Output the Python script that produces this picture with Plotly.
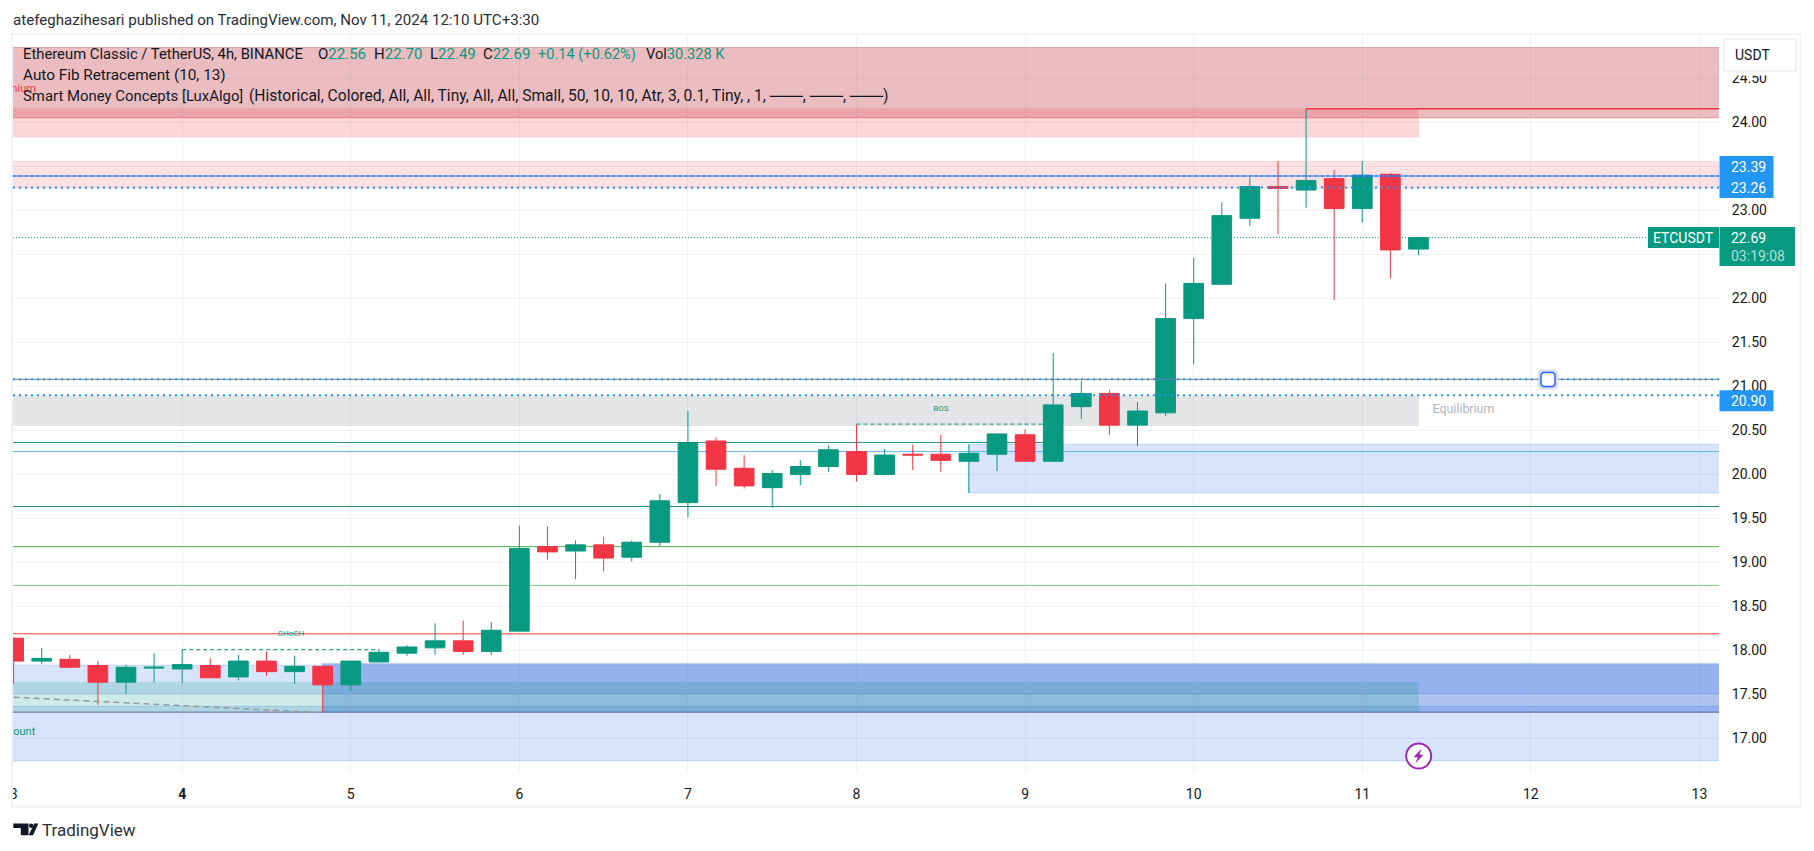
import plotly.graph_objects as go

W, H = 1814, 851
PL, PR, PT, PB = 13, 1719, 34, 771.7   # plot box in page pixels

# ---------- data ----------
open_ = [18.14,17.88,17.90,17.83,17.64,17.80,17.79,17.83,17.70,17.88,17.76,17.82,17.61,17.87,17.97,18.03,18.11,17.99,18.22,19.18,19.13,19.20,19.06,19.23,19.68,20.38,20.07,19.85,20.00,20.09,20.26,20.00,20.23,20.23,20.15,20.23,20.45,20.15,20.77,20.92,20.56,20.70,21.77,22.16,22.91,23.27,23.23,23.36,23.02,23.41,22.56]
high_ = [18.15,18.03,17.95,17.88,17.84,17.97,18.01,17.91,17.95,17.99,17.94,17.82,17.88,18.01,18.06,18.31,18.34,18.32,19.42,19.41,19.25,19.29,19.25,19.78,20.72,20.42,20.22,20.05,20.16,20.33,20.57,20.29,20.34,20.45,20.34,20.47,20.51,21.38,21.06,20.96,20.82,22.17,22.46,23.09,23.37,23.56,24.16,23.46,23.56,23.42,22.70]
low_  = [17.62,17.85,17.80,17.38,17.51,17.64,17.63,17.69,17.66,17.71,17.62,17.30,17.54,17.87,17.94,17.95,17.95,17.95,18.22,19.03,18.81,18.90,19.01,19.18,19.51,19.87,19.84,19.62,19.88,20.03,19.92,19.99,20.05,20.03,19.79,20.04,20.15,20.15,20.63,20.45,20.32,20.66,21.25,22.16,22.82,22.73,23.03,21.98,22.86,22.23,22.49]
close_= [17.88,17.91,17.81,17.64,17.81,17.81,17.84,17.69,17.88,17.76,17.82,17.61,17.88,17.98,18.04,18.11,17.99,18.23,19.16,19.12,19.20,19.05,19.23,19.70,20.36,20.06,19.87,20.01,20.09,20.28,20.00,20.22,20.22,20.16,20.24,20.46,20.15,20.79,20.92,20.56,20.72,21.77,22.17,22.94,23.27,23.25,23.34,23.02,23.40,22.55,22.69]
bar_x = [3 + i / 6 for i in range(len(open_))]

day_ticks = [3,4,5,6,7,8,9,10,11,12,13]
day_labels = ["3","<b>4</b>","5","6","7","8","9","10","11","12","13"]
price_ticks = [17,17.5,18,18.5,19,19.5,20,20.5,21,21.5,22,22.5,23,23.5,24,24.5]

X_MIN, X_MAX = 2.9964, 13.116
Y_MIN, Y_MAX = 16.62, 25.003
ZONE_END = 11.336

zones = [
    (X_MIN, X_MAX, 24.05, 24.85, "rgba(192,35,45,0.30)", "rgba(192,35,45,0.30)"),
    (X_MIN, ZONE_END, 23.826, 24.16, "rgba(242,54,69,0.20)", None),
    (X_MIN, X_MAX, 23.25, 23.557, "rgba(242,54,69,0.15)", "rgba(242,54,69,0.12)"),
    (X_MIN, ZONE_END, 20.55, 20.90, "rgba(120,123,134,0.20)", None),
    (8.66, X_MAX, 19.79, 20.344, "rgba(41,110,240,0.19)", "rgba(41,110,240,0.20)"),
    (X_MIN, X_MAX, 17.51, 17.833, "rgba(41,110,240,0.19)", "rgba(41,110,240,0.20)"),
    (X_MIN, X_MAX, 16.746, 17.367, "rgba(41,110,240,0.19)", "rgba(41,110,240,0.20)"),
    (4.83, X_MAX, 17.30, 17.85, "rgba(41,98,216,0.38)", "rgba(41,98,216,0.30)"),
    (X_MIN, ZONE_END, 17.30, 17.643, "rgba(8,153,129,0.20)", None),
]
flat_lines = [
    (X_MIN, 9.17, 20.363, "#2a9a7e", 1),
    (X_MIN, X_MAX, 20.26, "#64b5f6", 1),
    (X_MIN, X_MAX, 19.636, "#1f8a77", 1),
    (X_MIN, X_MAX, 19.18, "#4caf50", 1),
    (X_MIN, X_MAX, 18.74, "#81c784", 1),
    (X_MIN, X_MAX, 18.19, "#f44336", 1),
    (X_MIN, X_MAX, 17.30, "#5f6f9f", 1),
]
choch_x, choch_y = [4, 5.17], [18.01, 18.01]
bos_x, bos_y = [8, 9.167], [20.572, 20.572]
swing_x, swing_y = [3.0, 4.76], [17.47, 17.30]
last_high_x, last_high_y = [10.667, X_MAX], [24.155, 24.155]
last_price = 22.69
fib_solid = 23.39
fib_dots = 23.26
lo_solid = 21.08
lo_dots = 20.90

# ---------- helpers ----------
def px(x): return (x - PL) / (PR - PL)
def py(y): return 1 - (y - PT) / (PB - PT)

TEAL, RED = "#089981", "#F23645"
FONT = "Roboto"
shapes, annotations = [], []

for x0, x1, y0, y1, fill, border in zones:
    shapes.append(dict(type="rect", layer="below", xref="x", yref="y", x0=x0, x1=x1, y0=y0, y1=y1,
                       fillcolor=fill, line_width=0))
    if border:
        for yy in (y0, y1):
            shapes.append(dict(type="line", layer="below", xref="x", yref="y", x0=x0, x1=x1, y0=yy, y1=yy,
                               line=dict(color=border, width=1)))
for x0, x1, yy, col, w in flat_lines:
    shapes.append(dict(type="line", layer="below", xref="x", yref="y", x0=x0, x1=x1, y0=yy, y1=yy,
                       line=dict(color=col, width=w)))
shapes.append(dict(type="line", layer="below", xref="x", yref="y", x0=X_MIN, x1=X_MAX, y0=last_price, y1=last_price,
                   line=dict(color=TEAL, width=1, dash="1px,2px")))

def text(x, y, s, size=14, color="#131722", anchor="left"):
    annotations.append(dict(xref="paper", yref="paper", x=px(x), y=py(y), text=s, showarrow=False,
                            xanchor=anchor, yanchor="middle", borderpad=0, borderwidth=0,
                            font=dict(family=FONT, size=size, color=color)))

def box(x0, y0, x1, y1, fill, line=None, lw=0):
    shapes.append(dict(type="rect", layer="above", xref="paper", yref="paper",
                       x0=px(x0), x1=px(x1), y0=py(y0), y1=py(y1), fillcolor=fill,
                       line=dict(color=line or fill, width=lw)))

def poly(points, fill, line=None, lw=0):
    path = "M " + " L ".join(f"{px(a):.5f},{py(b):.5f}" for a, b in points) + " Z"
    shapes.append(dict(type="path", layer="above", xref="paper", yref="paper", path=path, fillcolor=fill,
                       line=dict(color=line or fill, width=lw)))

def circle(cx, cy, r, fill, line=None, lw=0):
    shapes.append(dict(type="circle", layer="above", xref="paper", yref="paper",
                       x0=px(cx - r), x1=px(cx + r), y0=py(cy + r), y1=py(cy - r), fillcolor=fill,
                       line=dict(color=line or fill, width=lw)))

# page frame and clip of the first date label
box(0, 772, 12, 806, "#ffffff")
FRAME = "#f0f3fa"
box(11, 33, 1801, 35, FRAME)
box(11, 33, 13, 807, FRAME)
box(11, 805.5, 1801, 807.5, FRAME)
box(1799.5, 33, 1801.5, 807, FRAME)

# price axis labels
box(1719.5, 156, 1773.5, 198, "#2196F3")
box(1719.5, 390, 1773.5, 411, "#2196F3")
box(1648, 227, 1719, 248, TEAL)
box(1719.5, 227, 1795, 266, TEAL)
box(1723, 38, 1797, 75.5, "#ffffff")
box(1724, 39, 1796, 71, "#ffffff", "#e0e3eb", 1)
text(1752.5, 54.7, "USDT", 14, "#131722", "center")
text(1730.5, 166.7, "23.39", 14, "#ffffff")
text(1730.5, 188, "23.26", 14, "#ffffff")
text(1730.5, 401, "20.90", 14, "#ffffff")
text(1683.5, 237.5, "ETCUSDT", 14, "#ffffff", "center")
text(1730.5, 237.5, "22.69", 14, "#ffffff")
text(1730.5, 255.7, "03:19:08", 14, "#b5e0d6")

# header / legend
LEG = 15
text(13, 20, "atefeghazihesari published on TradingView.com, Nov 11, 2024 12:10 UTC+3:30", 15.1, "#2a2e39")
text(23, 54, "Ethereum Classic / TetherUS, 4h, BINANCE", LEG - 0.2)
text(317.5, 54, f"O<span style='color:{TEAL}'>22.56</span>", LEG)
text(373.5, 54, f"H<span style='color:{TEAL}'>22.70</span>", LEG)
text(429.5, 54, f"L<span style='color:{TEAL}'>22.49</span>", LEG)
text(483, 54, f"C<span style='color:{TEAL}'>22.69</span>", LEG)
text(538, 54, "+0.14 (+0.62%)", 14.6, TEAL)
text(645.5, 54, f"Vol<span style='color:{TEAL}'>30.328 K</span>", 14.6)
text(23, 75, "Auto Fib Retracement (10, 13)", 15.3)
text(23, 96, "Smart Money Concepts [LuxAlgo]", 14.9)
text(248.5, 96, "(Historical, Colored, All, All, Tiny, All, All, Small, 50, 10, 10, Atr, 3, 0.1, Tiny, , 1, ───, ───, ───)", 15.6)

# footer logo
LOGO = "#131722"
poly([(13.3,823.3),(28.5,823.3),(28.5,835),(20.8,835),(20.8,827.6),(13.3,827.6)], LOGO)
circle(31.2, 825.4, 2.2, LOGO)
poly([(34.3,823.3),(38.4,823.3),(33,835),(28.6,835)], LOGO)
text(41.5, 830, "TradingView", 17, "#2a2e39")

# handle on the drawn line
def rounded(cx, cy, half, r):
    return [(cx-half+r,cy-half),(cx+half-r,cy-half),(cx+half,cy-half+r),(cx+half,cy+half-r),
            (cx+half-r,cy+half),(cx-half+r,cy+half),(cx-half,cy+half-r),(cx-half,cy-half+r)]
poly(rounded(1548, 379.3, 10, 3), "#d4def9")
poly(rounded(1548, 379.3, 7, 2), "#ffffff", "#2962ff", 1.5)

# lightning badge
circle(1418.7, 755.7, 12.5, "#ffffff", "#9c27b0", 2)
poly([(1421.5,748.5),(1413.5,757),(1417.8,757),(1415.5,763),(1423.5,754.5),(1419.5,754.5)], "#9c27b0")

fig = go.Figure()
fig.add_trace(go.Candlestick(x=bar_x, open=open_, high=high_, low=low_, close=close_, showlegend=False,
                             whiskerwidth=0, hoverinfo="skip",
                             increasing=dict(line=dict(color=TEAL, width=1), fillcolor=TEAL),
                             decreasing=dict(line=dict(color=RED, width=1), fillcolor=RED)))

def line_trace(x, y, color, width=1, dash="solid"):
    fig.add_trace(go.Scatter(x=x, y=y, mode="lines", showlegend=False, hoverinfo="skip",
                             line=dict(color=color, width=width, dash=dash)))

line_trace(choch_x, choch_y, TEAL, 1, "4px,3px")
line_trace(bos_x, bos_y, TEAL, 1, "4px,3px")
line_trace(swing_x, swing_y, "#9598a1", 1.5, "6px,4px")
line_trace(last_high_x, last_high_y, RED, 1.5)
ends = [X_MIN, X_MAX]
line_trace(ends, [fib_solid]*2, "#2962ff", 1)
line_trace(ends, [fib_solid]*2, "#2196f3", 2, "2px,4px")
line_trace(ends, [fib_dots]*2, "#2196f3", 2, "2px,4px")
line_trace(ends, [lo_solid]*2, "#787b86", 1)
line_trace(ends, [lo_solid]*2, "#2196f3", 2, "2px,4px")
line_trace(ends, [lo_dots]*2, "#2196f3", 2, "2px,4px")

def label_trace(x, y, s, color, size):
    fig.add_trace(go.Scatter(x=[x], y=[y], mode="text", text=[s], showlegend=False, hoverinfo="skip",
                             textposition="middle center", textfont=dict(family=FONT, size=size, color=color)))

label_trace(3.0, 24.378, "Premium", RED, 11)
label_trace(3.0, 17.07, "Discount", TEAL, 11)
label_trace(4.645, 18.185, "CHoCH", TEAL, 8)
label_trace(8.5, 20.74, "BOS", TEAL, 8)
label_trace(11.60, 20.73, "Equilibrium", "#b2b5be", 12.4)

GRID = "rgba(120,123,134,0.10)"
fig.update_layout(
    width=W, height=H, autosize=False, paper_bgcolor="#ffffff", plot_bgcolor="#ffffff",
    margin=dict(l=PL, r=W-PR, t=PT, b=H-PB, pad=0, autoexpand=False),
    boxgap=0.30, boxgroupgap=0, hovermode=False, showlegend=False,
    xaxis=dict(range=[X_MIN, X_MAX], rangeslider=dict(visible=False), tickmode="array", tickvals=day_ticks,
               ticktext=day_labels, showgrid=True, gridcolor=GRID, gridwidth=1, zeroline=False, showline=False,
               ticks="outside", ticklen=9, tickcolor="rgba(0,0,0,0)", tickfont=dict(family=FONT, size=14, color="#131722")),
    yaxis=dict(range=[Y_MIN, Y_MAX], side="right", tickmode="array", tickvals=price_ticks,
               ticktext=[f"{v:.2f}" for v in price_ticks], showgrid=True, gridcolor=GRID, gridwidth=1,
               zeroline=False, showline=False, ticks="outside", ticklen=9, tickcolor="rgba(0,0,0,0)",
               tickfont=dict(family=FONT, size=14, color="#131722")),
    shapes=shapes, annotations=annotations,
)

fig.write_html("out.html", config=dict(displayModeBar=False, staticPlot=True),
               post_script="document.body.style.margin='0';document.documentElement.style.overflow='hidden';")
